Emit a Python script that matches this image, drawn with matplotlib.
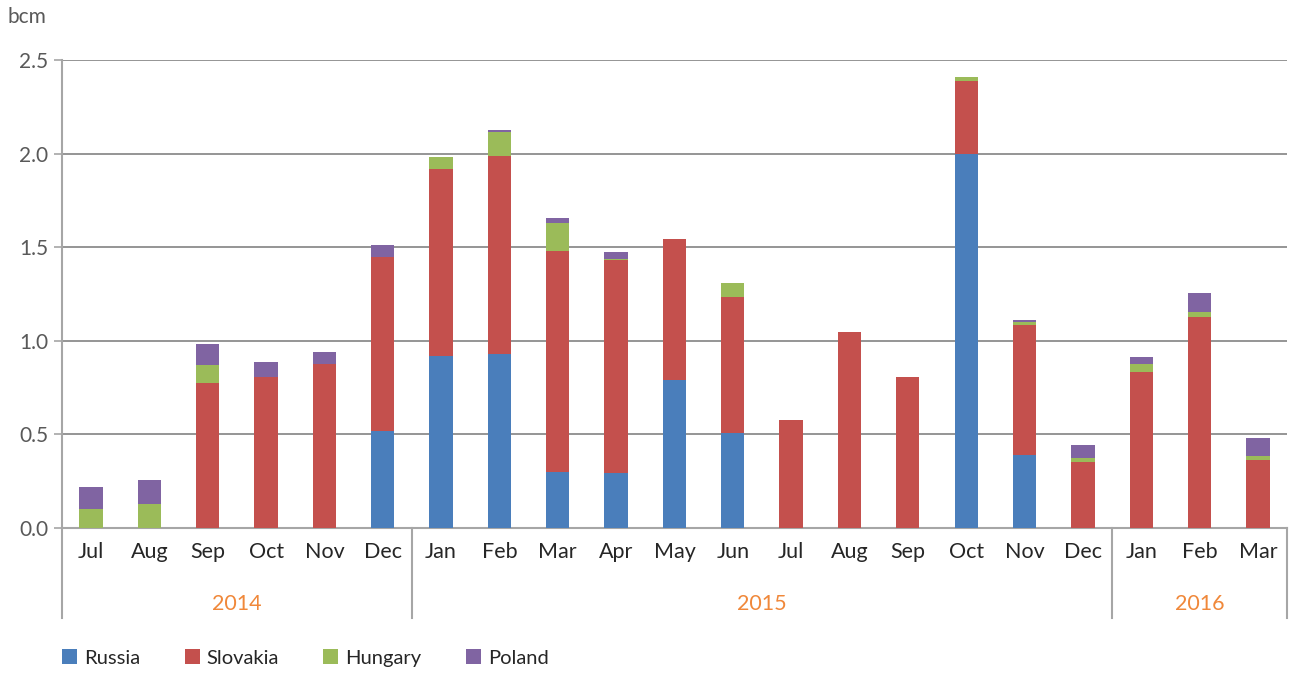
import numpy as np
import matplotlib
matplotlib.use('Agg')
import matplotlib.pyplot as plt
from matplotlib.patches import Patch

plt.rcParams['font.family'] = ['Lato', 'DejaVu Sans']

months = ['Jul', 'Aug', 'Sep', 'Oct', 'Nov', 'Dec',
          'Jan', 'Feb', 'Mar', 'Apr', 'May', 'Jun', 'Jul', 'Aug', 'Sep', 'Oct', 'Nov', 'Dec',
          'Jan', 'Feb', 'Mar']
years = ['2014', '2015', '2016']
year_counts = [6, 12, 3]

russia = [0, 0, 0, 0, 0, 0.518,
          0.919, 0.93, 0.30, 0.294, 0.79, 0.507, 0, 0, 0, 2.0, 0.388, 0,
          0, 0, 0]
slovakia = [0, 0, 0.776, 0.807, 0.878, 0.930,
            1.0, 1.059, 1.18, 1.136, 0.754, 0.729, 0.577, 1.047, 0.807, 0.388, 0.696, 0.354,
            0.832, 1.129, 0.36]
hungary = [0.101, 0.13, 0.095, 0, 0, 0,
           0.064, 0.128, 0.149, 0.005, 0, 0.073, 0, 0, 0, 0.021, 0.015, 0.018,
           0.046, 0.025, 0.026]
poland = [0.116, 0.125, 0.114, 0.082, 0.06, 0.064,
          0, 0.007, 0.025, 0.038, 0, 0, 0, 0, 0, 0, 0.012, 0.07,
          0.035, 0.1, 0.093]

series = [('Russia', russia, '#4a7ebb'),
          ('Slovakia', slovakia, '#c4504d'),
          ('Hungary', hungary, '#9bbb59'),
          ('Poland', poland, '#8064a2')]

fig = plt.figure(figsize=(12.9, 6.75), dpi=100)
ax = fig.add_axes([0.048, 0.218, 0.9497, 0.693])

x = np.arange(len(months))
bottom = np.zeros(len(months))
for name, vals, col in series:
    vals = np.array(vals)
    ax.bar(x, vals, width=0.4, bottom=bottom, color=col, zorder=3)
    bottom += vals

ax.set_xlim(-0.5, len(months) - 0.5)
ax.set_ylim(0, 2.5)
ax.set_yticks([0, 0.5, 1.0, 1.5, 2.0, 2.5])
ax.set_yticklabels(['0.0', '0.5', '1.0', '1.5', '2.0', '2.5'])
ax.yaxis.grid(True, color='#8c8c8c', linewidth=1.3, zorder=0)
ax.tick_params(axis='y', labelsize=15, colors='#595959', length=6, width=1.2, pad=4)
ax.tick_params(axis='y', color='#a6a6a6')

ax.set_xticks(x)
ax.set_xticklabels(months)
ax.tick_params(axis='x', length=0, labelsize=15.5, labelcolor='#262626', pad=10)

for s in ['top', 'right']:
    ax.spines[s].set_visible(False)
ax.spines['left'].set_color('#a6a6a6')
ax.spines['left'].set_linewidth(1.5)
ax.spines['bottom'].set_color('#a6a6a6')
ax.spines['bottom'].set_linewidth(1.5)

# year grouping below month labels
trans = ax.get_xaxis_transform()
start = -0.5
edges = [start]
for yr, n in zip(years, year_counts):
    ax.text(start + n / 2, -0.162, yr, transform=trans, ha='center', va='center',
            fontsize=15.5, color='#f0883a')
    start += n
    edges.append(start)
for e in edges:
    ax.plot([e, e], [0, -0.192], transform=trans, color='#a6a6a6', linewidth=1.5,
            clip_on=False)

fig.text(0.006, 0.975, 'bcm', fontsize=15, color='#595959', va='center', ha='left')

handles = [Patch(facecolor=c, label=n) for n, _, c in series]
fig.legend(handles=handles, loc='center left', bbox_to_anchor=(0.048, 0.025), ncol=4,
           frameon=False, fontsize=14.5, handlelength=0.75, handleheight=0.75,
           handletextpad=0.35, columnspacing=2.2, borderpad=0, borderaxespad=0,
           labelcolor='#262626')

fig.savefig('out.png', dpi=100)
